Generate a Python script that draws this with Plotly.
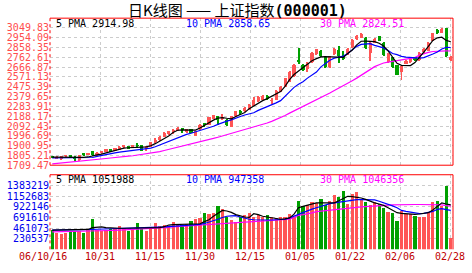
import plotly.graph_objects as go

# ---------------- data ----------------
dates = ["10/16","10/17","10/18","10/19","10/20","10/23","10/24","10/25","10/26","10/27","10/30","10/31",
         "11/01","11/02","11/03","11/06","11/07","11/08","11/09","11/10","11/13","11/14","11/15","11/16",
         "11/17","11/20","11/21","11/22","11/23","11/24","11/27","11/28","11/29","11/30",
         "12/01","12/04","12/05","12/06","12/07","12/08","12/11","12/12","12/13","12/14","12/15","12/18",
         "12/19","12/20","12/21","12/22","12/25","12/26","12/27","12/28","12/29",
         "01/04","01/05","01/08","01/09","01/10","01/11","01/12","01/15","01/16","01/17","01/18","01/19",
         "01/22","01/23","01/24","01/25","01/26","01/29","01/30","01/31",
         "02/01","02/02","02/05","02/06","02/07","02/08","02/09","02/12","02/13","02/14","02/15","02/16",
         "02/26","02/27","02/28"]

open_ = [1796,1778,1768,1799,1802,1790,1760,1822,1814,1843,1804,1826,1838,1863,1850,1860,1889,1892,1875,1901,
         1906,1862,1890,1935,1950,1985,2012,2040,2043,2062,2032,2057,1996,2057,2118,2105,2163,2185,2168,2153,
         2083,2185,2228,2233,2249,2290,2335,2348,2386,2337,2348,2427,2475,2523,2577,2728,2683,2652,2715,2796,
         2826,2765,2665,2795,2833,2779,2795,2858,2938,2955,2954,2800,2906,2968,2906,2715,2763,2683,2620,2700,
         2715,2762,2731,2810,2826,2922,3032,3002,3048,2740]
high = [1801,1795,1799,1808,1806,1795,1812,1831,1826,1848,1833,1851,1866,1867,1880,1893,1898,1896,1906,1927,
        1909,1897,1937,1978,1990,2030,2046,2057,2078,2066,2062,2060,2046,2112,2125,2180,2200,2190,2207,2160,
        2190,2238,2243,2276,2302,2376,2385,2392,2390,2364,2441,2480,2560,2625,2699,2850,2700,2720,2815,2846,
        2835,2770,2776,2848,2870,2826,2848,2940,2976,3002,2960,2910,2950,2974,2912,2800,2768,2688,2690,2736,
        2750,2768,2813,2848,2910,3004,3040,3050,3050,2775]
low = [1776,1772,1763,1794,1788,1748,1752,1795,1810,1800,1800,1820,1834,1840,1847,1857,1878,1866,1872,1875,
       1845,1843,1887,1928,1945,1980,2005,2016,2038,2025,2026,2018,1990,2050,2083,2100,2158,2105,2153,2094,
       2078,2180,2195,2228,2244,2285,2330,2343,2345,2309,2345,2420,2470,2518,2570,2700,2630,2620,2710,2788,
       2763,2658,2655,2788,2710,2740,2785,2850,2932,2948,2845,2724,2900,2918,2779,2705,2662,2585,2540,2695,
       2710,2728,2726,2805,2820,2918,2990,2998,2765,2730]
close = [1782,1790,1795,1803,1794,1766,1806,1815,1822,1803,1829,1848,1862,1845,1876,1890,1894,1870,1903,1896,
         1851,1894,1933,1958,1985,2025,2041,2047,2073,2054,2057,2025,2041,2099,2108,2175,2195,2147,2177,2099,
         2185,2233,2220,2271,2297,2345,2378,2386,2350,2343,2437,2475,2555,2619,2690,2716,2641,2707,2808,2840,
         2770,2668,2770,2840,2770,2750,2842,2935,2970,2990,2852,2905,2945,2925,2786,2795,2670,2590,2680,2730,
         2745,2732,2808,2842,2905,2998,2998,3040,2772,2767]

pma5 = [1788,1787,1786,1786,1787,1786,1786,1787,1790,1802,1810,1818,1830,1843,1858,1868,1876,1880,1884,1886,
        1887,1888,1900,1920,1946,1975,1995,2030,2051,2054,2055,2052,2053,2073,2100,2121,2150,2170,2175,2168,
        2163,2185,2205,2225,2262,2290,2318,2340,2360,2385,2405,2428,2480,2545,2595,2630,2662,2700,2730,2750,
        2768,2769,2769,2769,2770,2763,2800,2835,2885,2920,2922,2922,2916,2900,2874,2826,2760,2705,2685,2683,
        2683,2712,2760,2815,2870,2928,2954,2960,2928,2915]
pma10 = [1780,1780,1780,1780,1780,1780,1780,1780,1781,1785,1795,1805,1812,1820,1830,1837,1843,1850,1856,1862,
         1868,1872,1876,1890,1907,1925,1945,1962,1975,1995,2010,2022,2035,2048,2060,2078,2090,2108,2128,2140,
         2152,2165,2185,2200,2212,2222,2245,2262,2284,2300,2318,2340,2380,2430,2470,2500,2525,2560,2590,2619,
         2670,2700,2735,2755,2763,2775,2800,2835,2870,2890,2897,2897,2880,2870,2855,2830,2800,2790,2772,2765,
         2760,2758,2756,2760,2775,2795,2815,2845,2860,2859]
pma30 = [1722,1726,1730,1733,1737,1740,1744,1748,1754,1759,1764,1770,1775,1780,1786,1790,1794,1798,1802,1808,
         1815,1821,1827,1835,1843,1853,1863,1873,1884,1895,1905,1915,1925,1935,1947,1959,1971,1983,1995,2007,
         2019,2031,2043,2056,2068,2080,2093,2107,2122,2138,2155,2175,2195,2218,2240,2262,2282,2302,2322,2343,
         2365,2390,2415,2440,2462,2486,2510,2535,2560,2590,2620,2650,2672,2690,2708,2716,2724,2734,2740,2746,
         2752,2760,2785,2800,2812,2820,2824,2826,2826,2825]

volume = [435000,365000,344000,365000,400000,400000,395000,365000,435000,660000,
          414000,400000,430000,456000,460000,505000,470000,400000,450000,575000,
          456000,407000,450000,575000,505000,526000,510000,596000,540000,530000,
          554000,611000,660000,681000,786000,780000,790000,941000,870000,716000,
          646000,600000,716000,751000,786000,716000,751000,702000,751000,700000,
          690000,700000,695000,765000,700000,1053000,941000,962000,1032000,1000000,
          1088000,975000,1046000,1186000,1137000,1277000,996000,1207000,1256000,1067000,
          1032000,975000,1032000,996000,905000,821000,786000,611000,835000,765000,
          765000,730000,695000,695000,821000,1032000,1046000,947000,1383000,260000]
vma5 = [v * 1000 for v in
        [414,414,414,414,414,416,418,420,430,470,480,484,470,460,456,456,456,456,456,460,
         460,456,458,462,470,490,526,535,540,540,540,542,548,554,600,640,716,780,842,830,
         800,751,720,700,690,771,750,716,700,680,660,651,660,680,760,899,930,960,990,1005,
         1005,1005,1005,1005,1050,1100,1147,1140,1130,1111,1080,1040,1005,980,950,899,850,793,780,770,
         760,757,765,775,793,850,934,1005,980,960]]
vma10 = [v * 1000 for v in
         [414,414,414,414,414,416,418,420,424,430,435,438,440,442,445,447,450,452,454,456,
          456,460,465,470,478,485,492,498,505,515,522,530,535,540,560,590,611,650,690,716,
          722,730,700,670,651,640,635,630,630,635,640,645,651,680,720,757,790,830,870,899,
          930,960,990,1005,1020,1040,1060,1076,1076,1076,1076,1076,1070,1040,1010,984,940,900,842,820,
          800,785,771,780,793,820,863,880,860,842]]
vma30 = [v * 1000 for v in
         [379,380,381,382,383,384,385,386,388,390,395,400,404,408,412,416,420,425,430,432,
          435,440,447,455,462,470,478,485,492,498,505,510,520,530,540,550,556,561,568,572,
          575,580,585,590,595,600,605,610,616,622,628,635,645,651,690,736,750,765,790,814,
          826,838,850,863,872,881,890,899,908,917,926,934,940,946,950,955,960,965,968,970,
          970,970,970,970,970,970,970,960,945,934]]

price_ticks = ["1709.47","1805.21","1900.95","1996.69","2092.43","2188.17","2283.91","2379.65",
               "2475.39","2571.13","2666.87","2762.61","2858.35","2954.09","3049.83"]
price_top = 3145.57
vol_ticks = ["230537","461073","691610","922146","1152683","1383219"]
vol_top = 1613756
x_labels = ["06/10/16","10/31","11/15","11/30","12/15","01/05","01/22","02/06","02/28"]

title_cn = "日K线图 —— 上证指数"
title_code = "(000001)"
legend_price = ["5 PMA 2914.98", "10 PMA 2858.65", "30 PMA 2824.51"]
legend_vol = ["5 PMA 1051988", "10 PMA 947358", "30 PMA 1046356"]

# ---------------- styling ----------------
W, H = 472, 273
L, R = 50, 452.7
RED = "#ff5555"
GREEN = "#00a000"
MONO = "DejaVu Sans Mono"
GRID = "#cccccc"
n = len(close)
idx = list(range(n))
step = 50 / (R - L) * n      # vertical grid every 50 px
grid_x = [-0.5 + k * step for k in range(len(x_labels))]

def py(px):
    return 1 - px / H

def pxx(px):
    return (px - L) / (R - L)

top_dom = [py(168.3), py(18.5)]
bot_dom = [py(254), py(178)]

up = [c >= o for o, c in zip(open_, close)]
ccolors = [RED if u else GREEN for u in up]
min_body = 7.0
body_base = [min(o, c) for o, c in zip(open_, close)]
body_h = [max(abs(c - o), min_body) for o, c in zip(open_, close)]
wick_h = [h - l for h, l in zip(high, low)]

fig = go.Figure()
fig.add_trace(go.Bar(x=idx, y=wick_h, base=low, width=0.22,
                     marker=dict(color=ccolors, line=dict(width=0)),
                     xaxis="x", yaxis="y", showlegend=False, hoverinfo="skip"))
fig.add_trace(go.Bar(x=idx, y=body_h, base=body_base, width=0.7,
                     marker=dict(color=ccolors, line=dict(width=0)),
                     xaxis="x", yaxis="y", showlegend=False, hoverinfo="skip"))
for ser, col in [(pma30, "#ff00ff"), (pma10, "#0000ff"), (pma5, "#000000")]:
    fig.add_trace(go.Scatter(x=idx, y=ser, mode="lines", line=dict(color=col, width=1.2),
                             xaxis="x", yaxis="y", showlegend=False, hoverinfo="skip"))

fig.add_trace(go.Bar(x=idx, y=volume, marker=dict(color=ccolors, line=dict(width=0)), width=0.72,
                     xaxis="x2", yaxis="y2", showlegend=False, hoverinfo="skip"))
for ser, col in [(vma30, "#ff00ff"), (vma10, "#0000ff"), (vma5, "#000000")]:
    fig.add_trace(go.Scatter(x=idx, y=ser, mode="lines", line=dict(color=col, width=1.2),
                             xaxis="x2", yaxis="y2", showlegend=False, hoverinfo="skip"))

axis_common = dict(range=[-0.5, n - 0.5], tickvals=grid_x, showticklabels=False, ticks="",
                   showgrid=True, gridcolor=GRID, griddash="dot", gridwidth=1,
                   zeroline=False, showline=False, fixedrange=True)
fig.update_layout(
    width=W, height=H, autosize=False,
    margin=dict(l=L, r=W - R, t=0, b=0, pad=0),
    paper_bgcolor="white", plot_bgcolor="white",
    barmode="overlay", bargap=0, showlegend=False,
    xaxis=dict(domain=[0, 1], anchor="y", **axis_common),
    xaxis2=dict(domain=[0, 1], anchor="y2", matches="x", **axis_common),
    yaxis=dict(domain=top_dom, range=[float(price_ticks[0]), price_top],
               tickvals=[float(t) for t in price_ticks], ticktext=price_ticks, ticks="",
               tickfont=dict(family=MONO, size=10, color="#ff4d4d"),
               showgrid=True, gridcolor=GRID, griddash="dot", zeroline=False, showline=False),
    yaxis2=dict(domain=bot_dom, range=[0, vol_top],
                tickvals=[int(t) for t in vol_ticks], ticktext=vol_ticks, ticks="",
                tickfont=dict(family=MONO, size=10, color="#0000ee"),
                showgrid=True, gridcolor=GRID, griddash="dot", zeroline=False, showline=False),
)

shapes = []
def seg(x0, y0, x1, y1, dash="solid"):
    shapes.append(dict(type="line", xref="paper", yref="paper", x0=x0, y0=y0, x1=x1, y1=y1,
                       line=dict(color="#ff0000", width=1, dash=dash), layer="above"))
seg(0, top_dom[1], 1, top_dom[1]); seg(1, top_dom[0], 1, top_dom[1]); seg(0, top_dom[0], 1, top_dom[0])
seg(0, top_dom[0], 0, top_dom[1], "dot")
seg(0, bot_dom[1], 1, bot_dom[1]); seg(1, bot_dom[0], 1, bot_dom[1])
seg(0, bot_dom[0], 0, bot_dom[1], "dot")
fig.update_layout(shapes=shapes)

ann = []
title_html = (title_cn + '<span style="font-family:DejaVu Sans Mono;font-weight:bold">'
              + title_code + '</span>')
ann.append(dict(text=title_html, xref="paper", yref="paper", x=pxx(237), y=py(10.0), showarrow=False,
                xanchor="center", yanchor="middle",
                font=dict(family="Noto Sans CJK SC", size=15, color="#000000")))
for txt, xp, col in zip(legend_price, [54, 184, 317.7], ["#000000", "#0000ff", "#ff00ff"]):
    ann.append(dict(text=txt, xref="paper", yref="paper", x=pxx(xp), y=py(23.8), showarrow=False,
                    xanchor="left", yanchor="middle", font=dict(family=MONO, size=10, color=col)))
for txt, xp, col in zip(legend_vol, [54, 184, 317.7], ["#000000", "#0000ff", "#ff00ff"]):
    ann.append(dict(text=txt, xref="paper", yref="paper", x=pxx(xp), y=py(183), showarrow=False,
                    xanchor="left", yanchor="middle", font=dict(family=MONO, size=10, color=col)))
for k, (lab, gx) in enumerate(zip(x_labels, grid_x)):
    ann.append(dict(text=lab, xref="x2", yref="paper", x=gx, y=py(261.7), showarrow=False,
                    xanchor="center", yanchor="middle", xshift=-7 if k == 0 else 0,
                    font=dict(family=MONO, size=10, color="#c00000")))
fig.update_layout(annotations=ann)

fig.write_html("out.html")
